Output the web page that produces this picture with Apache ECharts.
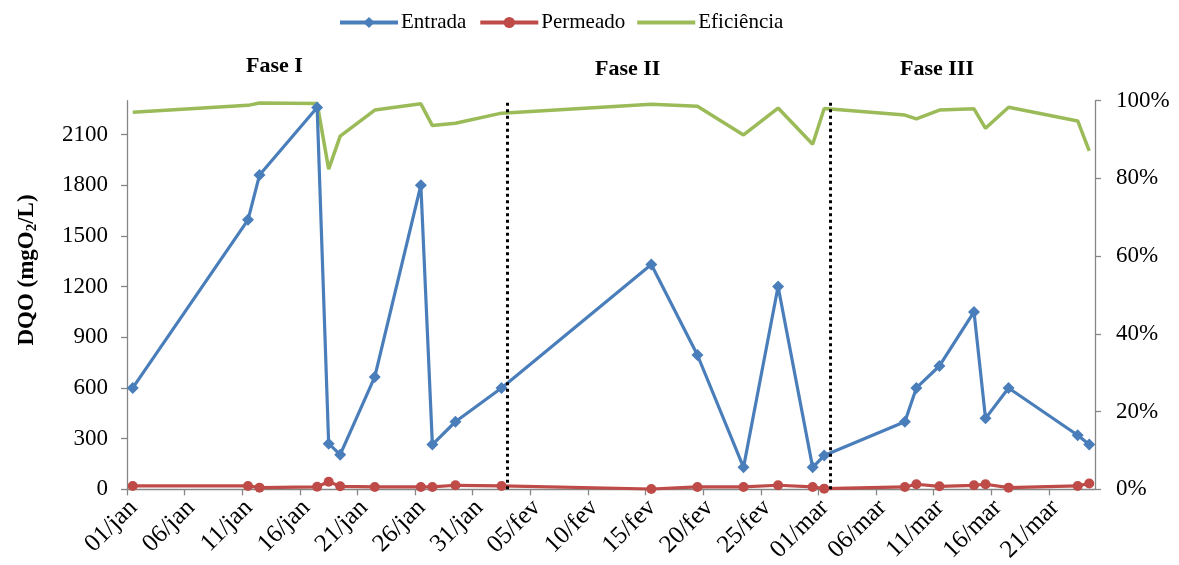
<!DOCTYPE html>
<html>
<head>
<meta charset="utf-8">
<script src="https://cdn.jsdelivr.net/npm/echarts@6/dist/echarts.min.js"></script>
<style>
html,body{margin:0;padding:0;background:#fff;}
#chart{width:1179px;height:565px;}
</style>
</head>
<body>
<div id="chart"></div>
<script>
// ---- data ----
const dates = ['01/jan','11/jan','12/jan','17/jan','18/jan','19/jan','22/jan','26/jan','27/jan','29/jan',
  '02/fev','15/fev','19/fev','23/fev','26/fev','29/fev','01/mar','08/mar','09/mar','11/mar',
  '14/mar','15/mar','17/mar','23/mar','24/mar'];
const entrada = [600,1595,1860,2260,270,205,665,1800,265,400,600,1330,795,130,1200,130,200,400,600,730,1050,420,600,320,265];
const permeado = [20,20,10,15,45,18,14,14,14,24,20,2,14,14,24,14,4,14,30,18,24,30,10,20,35];
const eficiencia = [97.0,98.8,99.4,99.3,82.4,90.9,97.6,99.2,93.6,94.2,96.8,99.1,98.6,91.2,98.1,88.8,98.0,96.3,95.3,97.6,97.9,92.9,98.3,94.8,87.1];
const tickLabels = ['01/jan','06/jan','11/jan','16/jan','21/jan','26/jan','31/jan','05/fev','10/fev','15/fev',
  '20/fev','25/fev','01/mar','06/mar','11/mar','16/mar','21/mar'];
const phaseNames = ['Fase I','Fase II','Fase III'];
const phaseStarts = ['03/fev','02/mar'];
const lastDate = '24/mar';

// ---- helpers ----
const monthOffset = {jan:0, fev:31, mar:60};
function dayIndex(s){ const [d,m]=s.split('/'); return monthOffset[m] + parseInt(d,10) - 1; }
// Excel date axis: points sit in the middle of their day slot
function pos(s){ return dayIndex(s) + 0.5; }

const serif = 'Liberation Serif';
const axisColor = '#868686';
const fs = 23;

const chart = echarts.init(document.getElementById('chart'), null, {renderer:'canvas'});
chart.setOption({
  animation:false,
  backgroundColor:'#fff',
  textStyle:{fontFamily:serif},
  legend:{
    top:7, left:333,
    itemWidth:58, itemHeight:14, itemGap:12,
    lineStyle:{width:4},
    textStyle:{fontFamily:serif, fontSize:21, color:'#000', padding:[0,0,0,-2]},
    data:[
      {name:'Entrada'},
      {name:'Permeado'},
      {name:'Eficiência', icon:'path://M0,0L60,0L60,4L0,4Z'}
    ]
  },
  grid:{left:127, right:84, top:100.7, bottom:74.5, containLabel:false},
  xAxis:{
    type:'value', min:0, max:dayIndex(lastDate)+1, interval:5,
    splitLine:{show:false},
    axisLine:{show:true, lineStyle:{color:axisColor, width:1.3}},
    axisTick:{show:true, length:6, inside:false, lineStyle:{color:axisColor, width:1.3}},
    axisLabel:{
      rotate:45, fontFamily:serif, fontSize:25, color:'#000', margin:21, padding:[0,-9,0,0],
      showMaxLabel:false,
      formatter:(v)=>{ const i=Math.round(v/5); return (v%5===0 && tickLabels[i])?tickLabels[i]:''; }
    }
  },
  yAxis:[
    {
      type:'value', min:0, max:2300, interval:300, position:'left',
      splitLine:{show:false},
      axisLine:{show:true, lineStyle:{color:axisColor, width:1.3}},
      axisTick:{show:true, length:6, lineStyle:{color:axisColor, width:1.3}},
      axisLabel:{fontFamily:serif, fontSize:fs, color:'#000', margin:19, showMaxLabel:false,
        formatter:(v)=>String(v)}
    },
    {
      type:'value', min:0, max:100, interval:20, position:'right',
      splitLine:{show:false},
      axisLine:{show:true, lineStyle:{color:axisColor, width:1.3}},
      axisTick:{show:true, length:6, lineStyle:{color:axisColor, width:1.3}},
      axisLabel:{fontFamily:serif, fontSize:fs, color:'#000', margin:21, formatter:'{value}%'}
    }
  ],
  series:[
    {
      name:'Entrada', type:'line', yAxisIndex:0,
      data: dates.map((d,i)=>[pos(d), entrada[i]]),
      symbol:'diamond', symbolSize:12,
      lineStyle:{color:'#4A7EBB', width:3.2},
      itemStyle:{color:'#4A7EBB'}, z:3
    },
    {
      name:'Permeado', type:'line', yAxisIndex:0,
      data: dates.map((d,i)=>[pos(d), permeado[i]]),
      symbol:'circle', symbolSize:10,
      lineStyle:{color:'#BE4B48', width:3.2},
      itemStyle:{color:'#BE4B48'}, z:3
    },
    {
      name:'Eficiência', type:'line', yAxisIndex:1,
      data: dates.map((d,i)=>[pos(d), eficiencia[i]]),
      symbol:'none',
      lineStyle:{color:'#9BBB59', width:3.5},
      itemStyle:{color:'#9BBB59'}, z:2,
      markLine:{
        silent:true, symbol:['none','none'],
        label:{show:false},
        lineStyle:{color:'#000', width:3, type:[3,3.5]},
        data: phaseStarts.map(d=>({xAxis: dayIndex(d)}))
      }
    }
  ],
  graphic:[
    {type:'text', x:27, y:270, rotation:Math.PI/2,
      style:{text:'DQO (mgO{sub|2}/L)', font:'bold 23px "Liberation Serif"', fill:'#000',
        align:'center', verticalAlign:'middle',
        rich:{sub:{font:'bold 15px "Liberation Serif"', fill:'#000', padding:[10,0,0,0]}}}},
    {type:'text', left:246, top:55, style:{text:phaseNames[0], font:'bold 22px "Liberation Serif"', fill:'#000'}},
    {type:'text', left:595, top:58, style:{text:phaseNames[1], font:'bold 22px "Liberation Serif"', fill:'#000'}},
    {type:'text', left:900, top:58, style:{text:phaseNames[2], font:'bold 22px "Liberation Serif"', fill:'#000'}}
  ]
});
</script>
</body>
</html>
